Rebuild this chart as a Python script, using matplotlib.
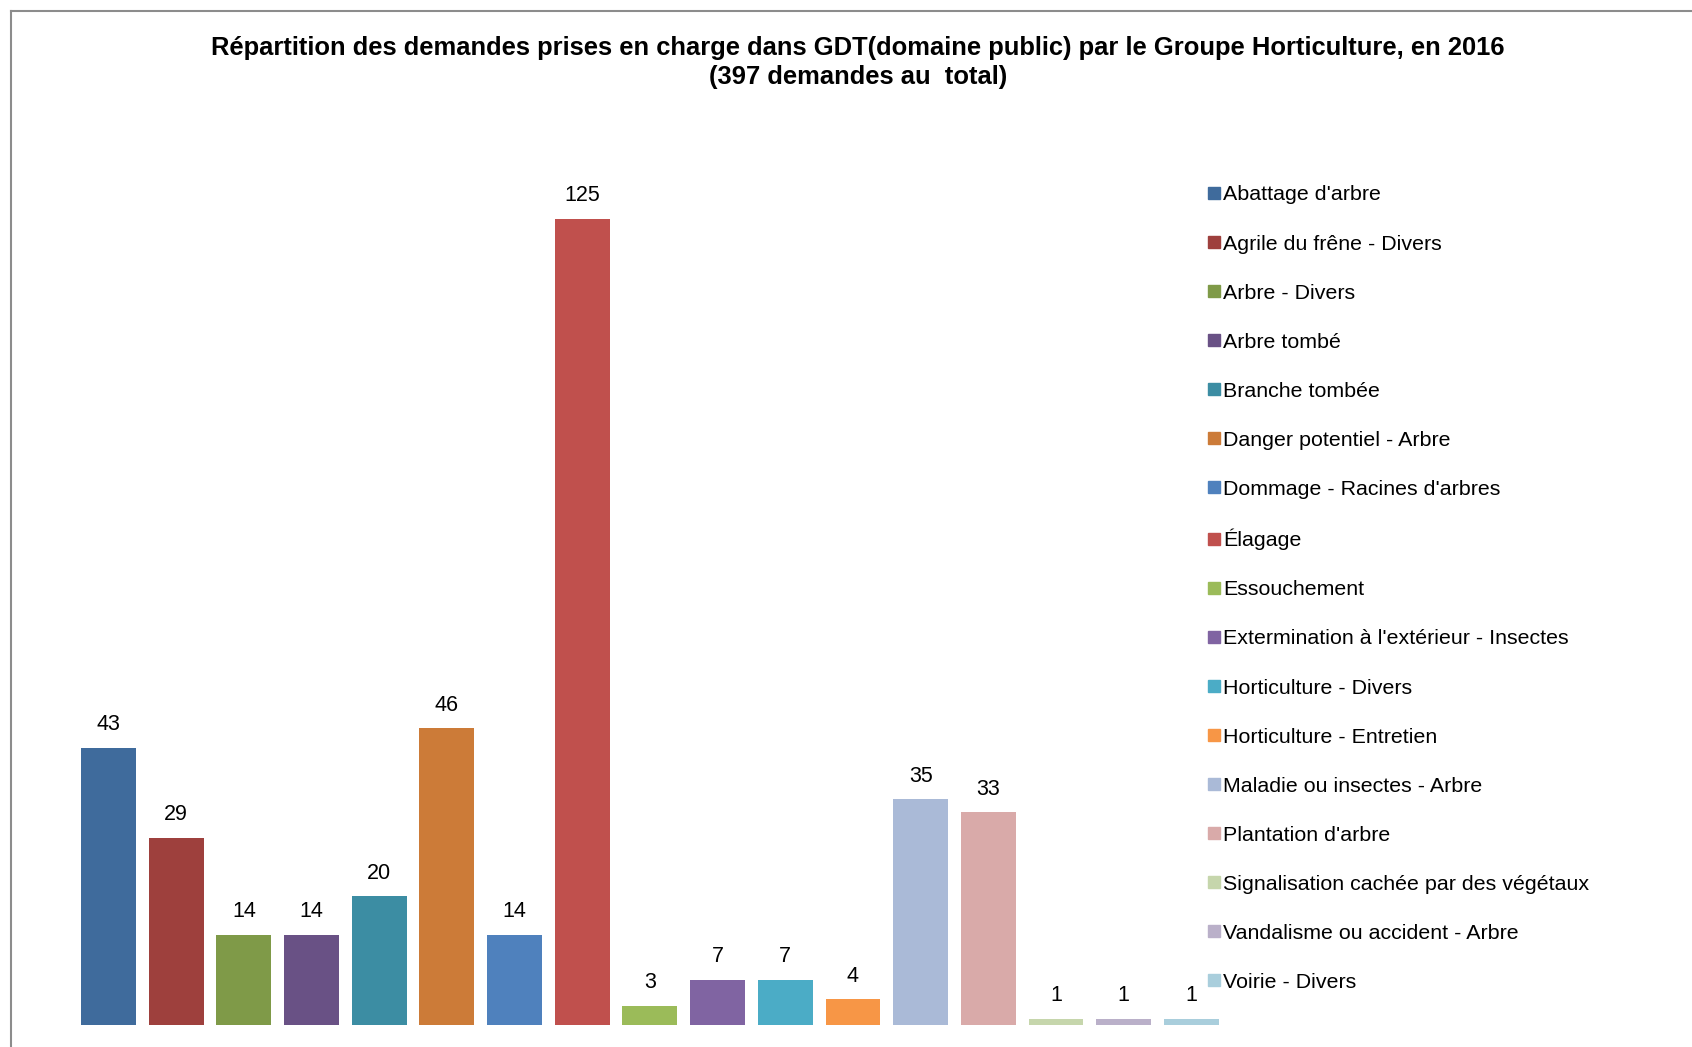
import matplotlib.pyplot as plt
from matplotlib.lines import Line2D

plt.rcParams['font.family'] = ['Liberation Sans', 'DejaVu Sans']

# categories and counts (2016)
categories = ["Abattage d'arbre", "Agrile du frêne - Divers", "Arbre - Divers",
              "Arbre tombé", "Branche tombée", "Danger potentiel - Arbre",
              "Dommage - Racines d'arbres", "Élagage", "Essouchement",
              "Extermination à l'extérieur - Insectes", "Horticulture - Divers",
              "Horticulture - Entretien", "Maladie ou insectes - Arbre",
              "Plantation d'arbre", "Signalisation cachée par des végétaux",
              "Vandalisme ou accident - Arbre", "Voirie - Divers"]
counts = [43, 29, 14, 14, 20, 46, 14, 125, 3, 7, 7, 4, 35, 33, 1, 1, 1]
colors = ['#3F6B9C', '#9E403D', '#7F9A48', '#695185', '#3C8DA3', '#CC7B38',
          '#4F81BD', '#C0504D', '#9BBB59', '#8064A2', '#4BACC6', '#F79646',
          '#AABAD7', '#D9AAA9', '#C6D6AC', '#BAB0C9', '#A9CEDC']

fig = plt.figure(figsize=(16.92, 10.47), dpi=100)
ax = fig.add_axes([0.0441, 0.021, 0.68, 0.8625])

x = range(len(counts))
bars = ax.bar(x, counts, width=0.81, color=colors)
for xi, v in zip(x, counts):
    ax.annotate(str(v), (xi, v), xytext=(0, 9), textcoords='offset points',
                ha='center', va='bottom', fontsize=15.5)

ax.set_xlim(-0.5, len(counts) - 0.5)
ax.set_ylim(0, 140)
ax.axis('off')

# legend
handles = [Line2D([], [], marker='s', linestyle='none', markersize=8,
                  markerfacecolor=c, markeredgecolor=c) for c in colors]
fig.legend(handles, categories, loc='upper left', bbox_to_anchor=(0.709, 0.831),
           frameon=False, fontsize=15.4, labelspacing=1.405, handlelength=0.55,
           handletextpad=0.15, borderaxespad=0)

fig.text(0.507, 0.966, "Répartition des demandes prises en charge dans GDT(domaine public) par le Groupe Horticulture, en 2016\n(397 demandes au  total)",
         ha='center', va='top', fontsize=18.4, fontweight='bold', linespacing=1.28)

# chart frame (top and left edges)
fig.add_artist(Line2D([0.0065, 1.0], [0.9895, 0.9895], color='#8c8c8c', lw=1.5))
fig.add_artist(Line2D([0.0065, 0.0065], [0.0, 0.9895], color='#8c8c8c', lw=1.5))

fig.savefig('out.png', dpi=100)
